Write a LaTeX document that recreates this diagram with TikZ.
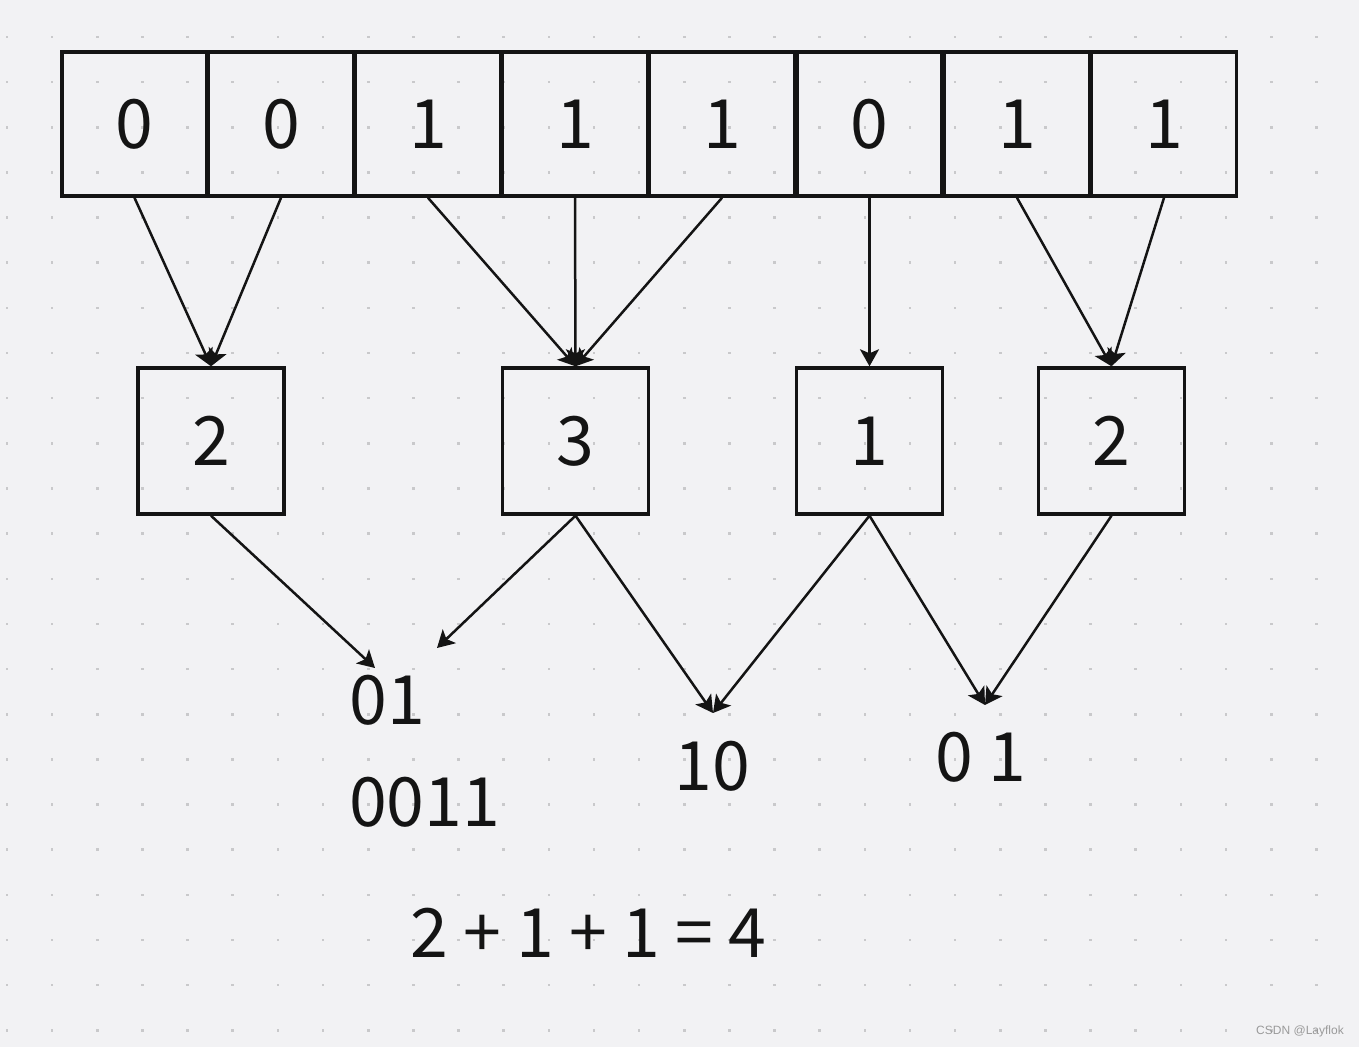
\documentclass[tikz,border=0pt]{standalone}
\usepackage{fontspec}
\setmainfont{Noto Sans CJK SC}
\newfontfamily\wmfont{Liberation Sans}
\usetikzlibrary{arrows.meta}
\definecolor{bgc}{HTML}{F2F2F4}
\definecolor{dotc}{HTML}{C9C9CB}
\definecolor{ink}{HTML}{141414}
\definecolor{wmc}{HTML}{9A9A9A}
\def\px{0.5pt}
\tikzset{
  bigtext/.style={font=\fontsize{34}{40}\selectfont, text=ink, inner sep=0pt},
  cell/.style={draw=ink, line width=3.6*\px, minimum width=145*\px, minimum height=144*\px, inner sep=0pt, bigtext},
  sumbox/.style={draw=ink, line width=3.4*\px, minimum width=146*\px, minimum height=146*\px, inner sep=0pt, bigtext},
  arr/.style={draw=ink, line width=2.5*\px, -{Stealth[length=17*\px, width=19*\px, inset=4*\px]}},
  plain/.style={bigtext}
}
\begin{document}
\begin{tikzpicture}[x=0.5pt, y=-0.5pt]
\useasboundingbox (0,0) rectangle (1359,1047);
\fill[bgc] (0,0) rectangle (1359,1047);
\foreach \i in {0,...,29}{
  \foreach \j in {0,...,22}{
    \fill[dotc] ({7+45.15*\i-1.3},{37+45.15*\j-1.3}) rectangle ++(2.6,2.6);
  }
}
% top row
\node[cell] (t1) at (134.5,124) {0};
\node[cell] (t2) at (281,124) {0};
\node[cell] (t3) at (428,124) {1};
\node[cell] (t4) at (575,124) {1};
\node[cell] (t5) at (722,124) {1};
\node[cell] (t6) at (869.5,124) {0};
\node[cell] (t7) at (1017,124) {1};
\node[cell] (t8) at (1164,124) {1};
% second row
\node[sumbox] (b1) at (211,441) {2};
\node[sumbox] (b2) at (575.5,441) {3};
\node[sumbox] (b3) at (869.5,441) {1};
\node[sumbox] (b4) at (1111.5,441) {2};
% arrows top to middle
\draw[arr] (t1.south) -- (b1.north);
\draw[arr] (t2.south) -- (b1.north);
\draw[arr] (t3.south) -- (b2.north);
\draw[arr] (t4.south) -- (b2.north);
\draw[arr] (t5.south) -- (b2.north);
\draw[arr] (t6.south) -- (b3.north);
\draw[arr] (t7.south) -- (b4.north);
\draw[arr] (t8.south) -- (b4.north);
% free ends
\coordinate (c1) at (375,668);
\coordinate (c2) at (437,648);
\coordinate (c3) at (713,713);
\coordinate (c4) at (985,705);
\draw[arr] (b1.south) -- (c1);
\draw[arr] (b2.south) -- (c2);
\draw[arr] (b2.south) -- (c3);
\draw[arr] (b3.south) -- (c3);
\draw[arr] (b3.south) -- (c4);
\draw[arr] (b4.south) -- (c4);
% texts
\node[plain] (r1) at (387,700) {01};
\node[plain] (r2) at (424.5,802) {0011};
\node[plain] (r3) at (712,766) {10};
\node[plain] (r4) at (981,757) {0 1};
\node[plain] (sum) at (588.5,932.5) {2 + 1 + 1 = 4};
\node[font=\wmfont\fontsize{6}{7}\selectfont, text=wmc, inner sep=0pt] (wm) at (1300,1031) {CSDN @Layflok};
\end{tikzpicture}
\end{document}
